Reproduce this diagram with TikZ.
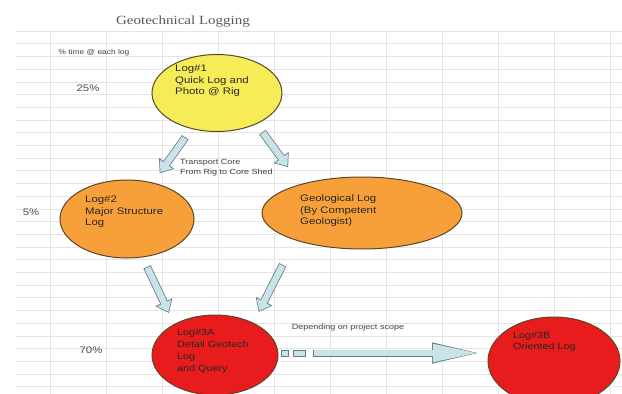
\documentclass[tikz,border=0pt]{standalone}
\usepackage{fontspec}
\setmainfont[FakeStretch=1.2]{Liberation Sans}
\newfontfamily\titlefont[FakeStretch=1.2]{Liberation Serif}
\usetikzlibrary{shapes.geometric,arrows.meta}

\definecolor{logyellow}{RGB}{246,236,88}
\definecolor{logorange}{RGB}{247,160,58}
\definecolor{logred}{RGB}{232,28,28}
\definecolor{logedge}{RGB}{92,70,40}
\definecolor{flowfill}{RGB}{200,228,232}
\definecolor{flowedge}{RGB}{100,124,130}
\definecolor{sheetline}{RGB}{228,228,228}

\begin{document}
\begin{tikzpicture}[x=1pt,y=-1pt,
	log/.style={ellipse,draw=logedge,line width=1pt,inner sep=0pt,outer sep=0pt},
	logtext/.style={anchor=west,align=left,inner sep=0pt,text=black!85,font=\fontsize{9.5}{11.5}\selectfont},
	note/.style={inner sep=0pt,text=black!75,font=\fontsize{7.5}{10}\selectfont},
	pct/.style={inner sep=0pt,text=black!70,font=\fontsize{9.5}{11}\selectfont},
	flowbox/.style={draw=flowedge,fill=flowfill,line width=0.8pt},
	flow/.style 2 args={draw=flowedge,line width=8pt,shorten <=#1,shorten >=#2,-{Triangle[length=12pt,width=18pt]},
		postaction={draw=flowfill,line width=6.4pt,shorten <=#1+0.8pt,shorten >=#2+1.3pt,-{Triangle[length=9.8pt,width=15pt]}}}]
	\useasboundingbox[fill=white] (0,0) rectangle (622,394);

	% sheet
	\foreach \y in {31,43.7,...,394}
		\draw[sheetline,line width=0.5pt] (16,\y) -- (622,\y);
	\foreach \x in {50,106,...,610}
		\draw[sheetline,line width=0.5pt] (\x,31) -- (\x,394);

	\node (title) at (183,22) {\titlefont\fontsize{12.5}{14}\selectfont\color{black!65}Geotechnical Logging};
	\node[note,font=\fontsize{7}{9}\selectfont] (timehead) at (94,53) {\% time @ each log};
	\node[pct] (pct1) at (88,88) {25\%};
	\node[pct] (pct2) at (31,212) {5\%};
	\node[pct] (pct3) at (91,350) {70\%};

	\node[log,fill=logyellow,minimum width=130pt,minimum height=77pt] (log1) at (217,93) {};
	\node[log,fill=logorange,minimum width=134pt,minimum height=78pt] (log2) at (127,219) {};
	\node[log,fill=logorange,minimum width=200pt,minimum height=72pt] (geo) at (362,213) {};
	\node[log,fill=logred,minimum width=126pt,minimum height=80pt] (log3a) at (215,355) {};
	\node[log,fill=logred,minimum width=132pt,minimum height=88pt] (log3b) at (554,361) {};

	\node[logtext] (log1text) at (175,81) {Log\#1\\Quick Log and\\Photo @ Rig};
	\node[logtext] (log2text) at (85,212) {Log\#2\\Major Structure\\Log};
	\node[logtext] (geotext) at (300,211) {Geological Log\\(By Competent\\Geologist)};
	\node[logtext,font=\fontsize{9}{12}\selectfont] (log3atext) at (177,351) {Log\#3A\\Detail Geotech\\Log\\and Query};
	\node[logtext,font=\fontsize{9}{11.5}\selectfont] (log3btext) at (513,342) {Log\#3B\\Oriented Log};

	\node[note,anchor=west,align=left] (transport) at (180,168) {Transport Core\\From Rig to Core Shed};
	\node[note] (scope) at (348,328) {Depending on project scope};

	\draw[flow={11pt}{12pt}] (log1) -- (log2);
	\draw[flow={10.5pt}{21.5pt}] (log1.322) -- (geo.155);
	\draw[flow={11pt}{12.6pt}] (log2.292) -- (log3a.143);
	\draw[flow={28pt}{12.5pt}] (geo.202) -- (log3a.40);

	\coordinate (scopetail) at (313,353);
	\draw[flowbox] (281,350) rectangle (288,356);
	\draw[flowbox] (293,350) rectangle (305,356);
	\draw[draw=flowedge,line width=7pt,shorten >=8pt,-{Triangle[length=48pt,width=19pt]},
		postaction={draw=flowfill,line width=5.4pt,shorten <=0.8pt,shorten >=10.2pt,-{Triangle[length=45pt,width=17pt]}}]
		(scopetail) -- (scopetail -| log3b.west);
\end{tikzpicture}
\end{document}
